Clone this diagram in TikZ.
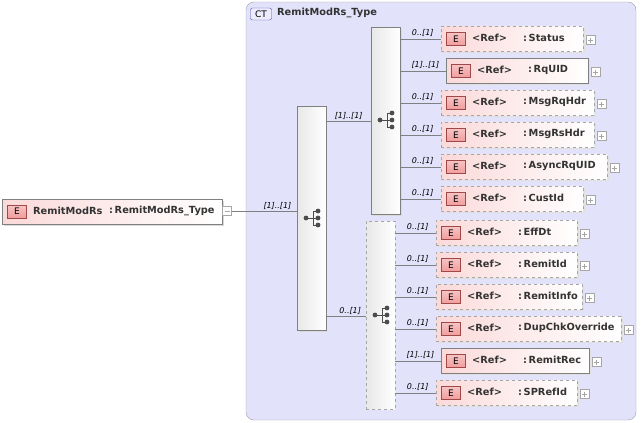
\documentclass[tikz,border=0pt]{standalone}
\usepackage{fontspec}
\setmainfont{DejaVu Sans}
\usetikzlibrary{calc}
\definecolor{ctfill}{HTML}{E2E2FB}
\definecolor{ctedge}{HTML}{A0A0A8}
\definecolor{elpink}{HTML}{FBD9D9}
\definecolor{badge}{HTML}{F09C9C}
\definecolor{badgeedge}{HTML}{A04848}
\definecolor{lineg}{HTML}{808080}
\tikzset{
  elem/.style={draw=lineg, left color=elpink, right color=white, minimum height=25pt,
    inner sep=0pt, anchor=north west},
  txt/.style={anchor=west, inner sep=0pt, text=black!80, font=\bfseries\fontsize{9.8}{11}\selectfont},
  opt/.style={dashed, draw=gray!70},
  seq/.style={draw=lineg, left color=gray!18, right color=white, minimum width=29pt,
    inner sep=0pt, anchor=north west},
  badgeE/.style={draw=badgeedge, top color=badge!60, bottom color=badge, minimum width=19pt,
    minimum height=13pt, inner sep=0pt, font=\fontsize{9}{10}\selectfont},
  plus/.style={draw=gray!70, fill=white, minimum size=9pt, inner sep=0pt},
  card/.style={font=\itshape\fontsize{8}{9}\selectfont, anchor=south, inner sep=1.5pt},
  conn/.style={draw=lineg},
}
% sequence icon
\newcommand{\seqicon}[1]{%
  \draw[black!70, line width=1pt] ($(#1)+(-7,0)$) -- ($(#1)+(0,0)$)
    ($(#1)+(5,-7)$) -- ($(#1)+(0,-7)$) -- ($(#1)+(0,7)$) -- ($(#1)+(5,7)$)
    ($(#1)+(0,0)$) -- ($(#1)+(5,0)$);
  \fill[black!70] ($(#1)+(-7,0)$) circle (2.4pt) ($(#1)+(5,-7)$) circle (2.4pt)
    ($(#1)+(5,0)$) circle (2.4pt) ($(#1)+(5,7)$) circle (2.4pt);}
\begin{document}
\begin{tikzpicture}[x=1pt,y=-1pt]
\useasboundingbox (0,0) rectangle (641,423);
% complex type
\draw[ctedge, fill=ctfill, rounded corners=8pt] (246,2) rectangle (636,420);
\node[draw=gray!60!blue, fill=ctfill!70!blue!20, rounded corners=2pt, minimum width=21pt,
  minimum height=12pt, inner sep=0pt, font=\fontsize{9}{10}\selectfont] (ct) at (261,14) {CT};
\node[txt] (ctname) at (277,13) {RemitModRs\_Type};

% root element
\fill[gray!30] (4,201) rectangle (224,226);
\node[elem, minimum width=220pt] (root) at (2,199) {};
\node[badgeE] (rootE) at (17,211.5) {E};
\node[txt] (rootT) at (33,211) {RemitModRs};
\node[txt] (rootC) at (109,211) {:\,RemitModRs\_Type};
\node[plus] (rootm) at (227,211) {};
\draw[gray!70] (224.5,211) -- (229.5,211);

% sequences
\fill[gray!30] (299,108) rectangle (327,332);
\node[seq, minimum height=224pt] (s1) at (297,106) {};
\fill[gray!30] (373,29) rectangle (402,216);
\node[seq, minimum height=187pt] (s2) at (371,27) {};
\node[seq, opt, minimum height=188pt] (s3) at (366,221) {};
\seqicon{313,218}
\seqicon{387,120}
\seqicon{382,315}

\draw[conn] (rootm.east) -- (rootm.east -| s1.west) node[card, pos=0.7] {[1]..[1]};
\coordinate (c12) at (s1.east |- 0,121);
\draw[conn] (c12) -- (c12 -| s2.west) node[card, pos=0.5] {[1]..[1]};
\coordinate (c13) at (s1.east |- 0,316);
\draw[conn] (c13) -- (c13 -| s3.west) node[card, pos=0.6] {0..[1]};

% children: name / x / y / width / optional / cardinality / parent
\foreach \n/\x/\y/\w/\o/\c/\p in {
  Status/441/26/142/1/0..[1]/s2,
  RqUID/446/58/142/0/[1]..[1]/s2,
  MsgRqHdr/441/90/153/1/0..[1]/s2,
  MsgRsHdr/441/122/153/1/0..[1]/s2,
  AsyncRqUID/441/154/166/1/0..[1]/s2,
  CustId/441/186/142/1/0..[1]/s2,
  EffDt/436/220/141/1/0..[1]/s3,
  RemitId/436/252/141/1/0..[1]/s3,
  RemitInfo/436/284/146/1/0..[1]/s3,
  DupChkOverride/436/316/185/1/0..[1]/s3,
  RemitRec/441/348/148/0/[1]..[1]/s3,
  SPRefId/436/380/141/1/0..[1]/s3}{
  \fill[gray!25] (\x+2,\y+2) rectangle (\x+\w+2,\y+27);
  \ifnum\o=1
    \node[elem, opt, minimum width=\w pt] (e\n) at (\x,\y) {};
  \else
    \node[elem, minimum width=\w pt] (e\n) at (\x,\y) {};
  \fi
  \node[badgeE] (b\n) at (\x+15,\y+13) {E};
  \node[txt] (r\n) at (\x+31,\y+12) {<Ref>};
  \node[txt] (t\n) at (\x+82,\y+12) {:\,\n};
  \node[plus] (p\n) at (\x+\w+7.5,\y+14) {};
  \draw[gray!70] (\x+\w+5,\y+14) -- (\x+\w+10,\y+14) (\x+\w+7.5,\y+11.5) -- (\x+\w+7.5,\y+16.5);
  \draw[conn] (e\n.west -| \p.east) -- (e\n.west) node[card, pos=0.55] {\c};
}
\end{tikzpicture}
\end{document}
